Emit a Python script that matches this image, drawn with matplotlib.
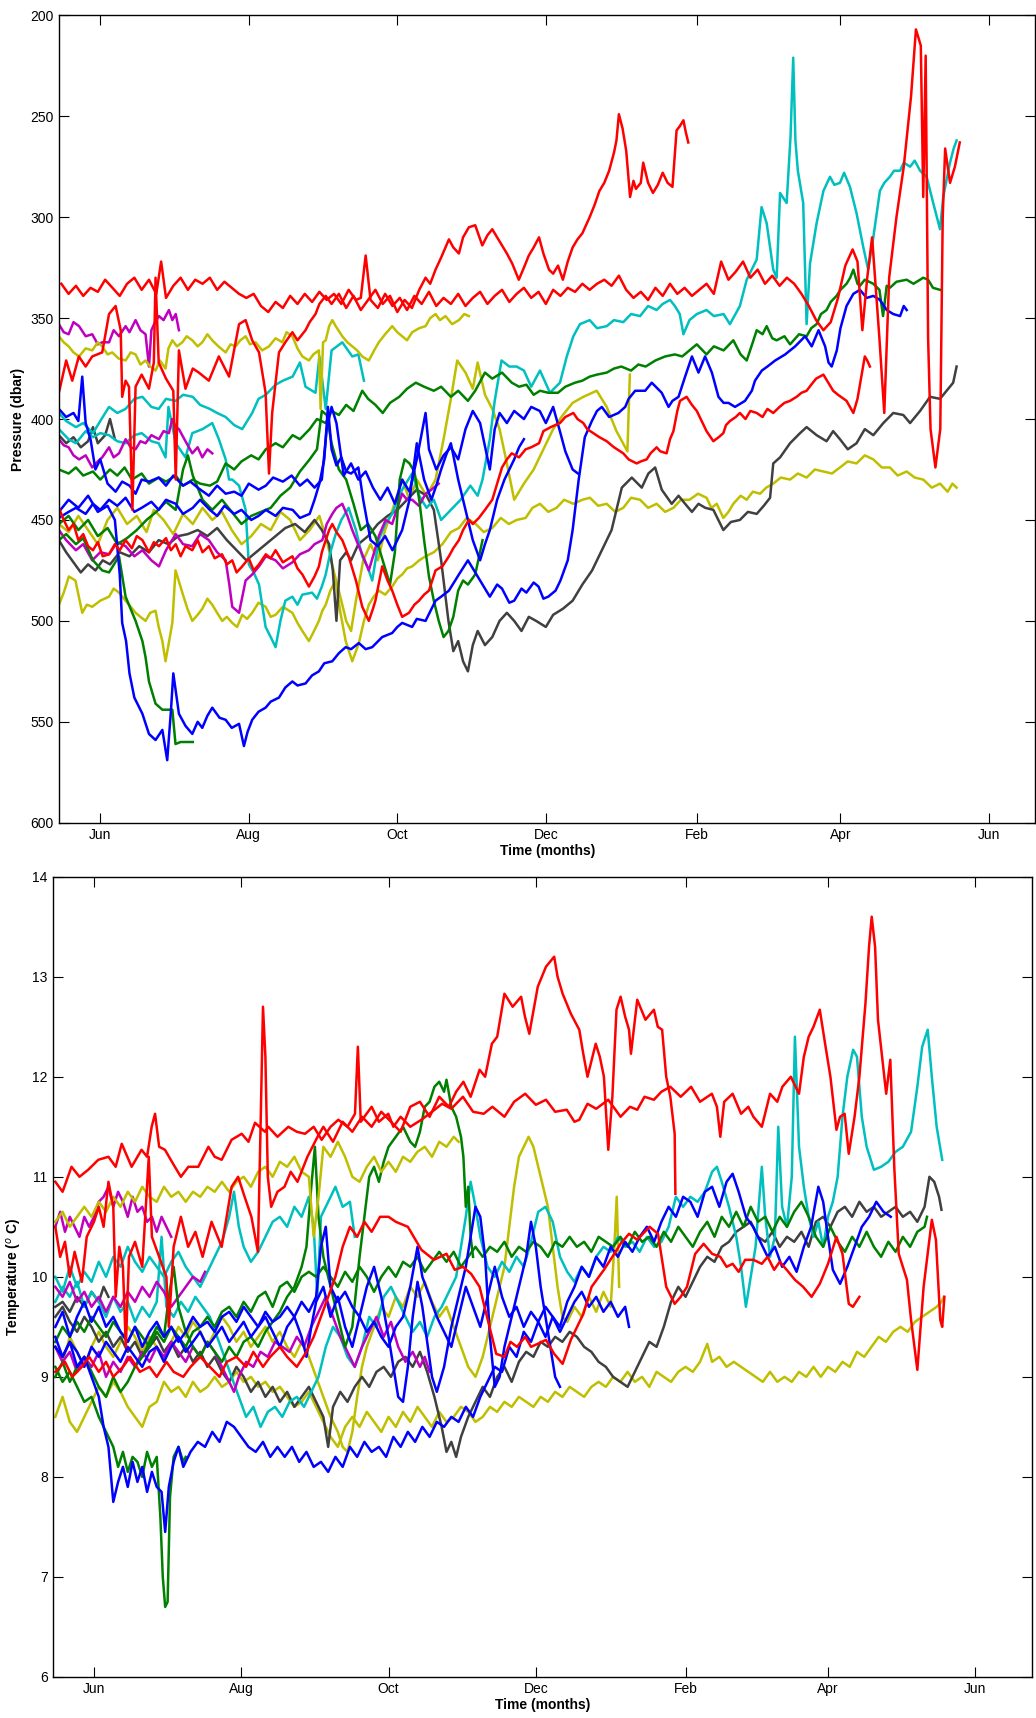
import numpy as np
import matplotlib
matplotlib.use("Agg")
import matplotlib.pyplot as plt
import matplotlib.dates as mdates

plt.rcParams['font.family'] = ['Liberation Sans', 'DejaVu Sans']

# ---------------- data: (day since 1 June, value) ----------------
BASE = "2009-06-01"

# ---- Pressure (dbar) ----
p_red1 = [(-16,333),(-13,338),(-10,334),(-7,339),(-4,335),(-1,337),(2,331),(5,335),(8,339),(11,333),(14,330),(17,336),(20,331),(23,338),(25,322),(27,340),(30,334),(33,330),(36,336),(39,331),(42,333),(45,330),(48,336),(51,332),(54,335),(57,338),(60,340),(63,338),(66,344),(69,347),(72,342),(75,345),(78,339),(81,343),(84,338),(87,342),(90,337),(93,341),(96,338),(99,343),(102,336),(105,341),(107,340),(109,319),(111,341),(114,345),(117,338),(120,344),(123,340),(126,346),(129,339),(132,343),(135,337),(138,344),(141,340),(144,343),(147,338),(150,344),(153,340),(156,337),(159,343),(162,339),(165,336),(168,342),(171,338),(174,335),(177,340),(180,337),(183,343),(186,336),(189,339),(192,335),(195,337),(198,333),(201,336),(204,333),(207,331),(210,334),(213,329),(216,336),(219,340),(222,337),(225,341),(228,335),(231,339),(234,333),(237,338),(240,335),(243,339),(246,336),(249,333),(252,338),(255,322),(258,331),(261,327),(264,322),(267,330),(270,326),(273,333),(276,329),(279,334),(282,330),(285,333),(288,338),(291,344),(294,351),(297,356),(300,352),(303,340),(306,324),(309,316),(311,322),(313,356),(315,330),(317,310),(320,360),(322,397),(324,330),(327,300),(330,275),(333,240),(335,207),(337,215),(338,290),(339,220),(340,360),(341,405),(343,424),(345,405),(346,300),(347,266),(349,283),(351,275),(353,263)]
p_red2 = [(-17,387),(-14,371),(-11.5,381),(-8.8,369),(-6,374),(-3.3,369),(0.8,367),(3.6,348),(6.3,344),(8.4,356),(9,389),(10.4,381),(11.8,384),(13.2,445),(14.5,384),(17,378),(20,385),(22,372),(22.7,330),(24,372),(27,380),(30,386),(31,430),(32.3,366),(35,385),(38,375),(40.5,377),(44.6,381),(48.7,369),(52.9,379),(57,353),(59.7,351),(62.4,361),(65.2,367),(67.9,387),(69.3,427),(70.6,397),(73.4,367),(76,362),(78.9,357),(81,361),(84.3,356),(86,352),(88.4,348),(90,343),(92.6,339),(95,343),(98,338),(101,345),(104,339),(107,346),(110,341),(113,336),(116,343),(119,339),(122,347),(125,341),(128,345),(131,336),(133.6,330),(135.5,333),(137.7,326),(140,320),(143.2,311),(145,315),(147.3,318),(149,310),(151.4,305),(154,304),(156.9,314),(159,309),(161,306),(163,310),(165,314),(167,318),(169.2,323),(171.9,331),(174,325),(176,319),(178,315),(180.2,310),(182,318),(184.3,326),(186,328),(188,324),(190,331),(192,322),(194,315),(196,311),(198,308),(201,300),(203,294),(205,287),(207,283),(209,277),(211,268),(212,262),(213,249),(214.5,256),(216,267),(217.6,290),(219,282),(220,286),(222,283),(223,273),(225,283),(227,288),(229,284),(231,278),(233,283),(235,285),(236.7,257),(238,255),(239.5,252),(240.5,258),(241.5,263)]
p_red3 = [(-17,444),(-15,450),(-13,455),(-11,452),(-9,460),(-7,457),(-5,463),(-3,465),(-1,461),(1,468),(3.6,467),(6,462),(8,465),(10.4,460),(13,464),(15,458),(17.3,460),(20,466),(22,461),(24.1,463),(27,459),(29,465),(31,462),(33,468),(35,463),(37.8,465),(40,460),(42,466),(44.6,463),(47,469),(50,467),(52,472),(54.2,470),(56,476),(58.3,473),(61,469),(63,475),(65.2,472),(68,467),(70,469),(72,465),(75,471),(78.9,468),(81,474),(83,477),(85.7,483),(88,478),(89.8,473),(91,466),(92.6,460),(94,455),(95.3,452),(97,456),(99.4,460),(102,468),(105,480),(107.6,493),(110.3,500),(112,494),(113,490),(115.8,473),(118,480),(119.9,485),(122,492),(124,498),(126.8,496),(129,492),(130.9,490),(133,487),(135,485),(137.7,475),(140.5,473),(143.2,468),(145,464),(147.3,460),(149,455),(151.4,450),(153,452),(155.5,449),(158,445),(161,440),(163,432),(165,424),(167,420),(169,417),(172,419),(174.7,415),(177,414),(180.2,412),(182,406),(185,404),(188.8,402),(191,399),(194.3,397),(196,400),(198.4,402),(200,405),(202.5,407),(205,409),(208,411),(211,414),(214.8,417),(217,420),(220.3,422),(222,421),(224.4,420),(226,417),(228.5,414),(230,416),(232.6,417),(234,410),(235.4,406),(237,396),(238.1,391),(240.8,389),(243,393),(245,396),(247,401),(249,406),(251.8,411),(254,409),(255.9,407),(257,403),(258.6,401),(261,399),(262.7,397),(265,400),(267,396),(269.6,397),(272,399),(274,395),(276.4,397),(279,394),(281,392),(283.3,391),(286,389),(288,387),(290.1,386),(292,383),(294,380),(297,378),(299,382),(301,386),(303,388),(306.5,391),(309.3,397),(311,390),(312,383),(313,376),(314,369),(315,371),(316.1,374)]
p_blue1 = [(-17,446),(-13,440),(-9,444),(-5,438),(-1,446),(3,443),(6,450),(8,477),(9,501),(10.6,510),(12,526),(14,538),(17.3,546),(20,556),(22.7,559),(25.5,554),(27.5,569),(29,545),(30,526),(32.3,546),(35,552),(37.8,556),(40,550),(41.9,553),(44,547),(46,543),(49,548),(51.5,549),(54,553),(57,551),(59,562),(60.5,555),(62.4,549),(65,545),(67.9,543),(70,540),(73.4,538),(76,533),(78.9,530),(81,532),(84.3,531),(87,527),(89.8,525),(92,521),(95.3,520),(98,516),(100.8,513),(103,514),(106.2,511),(109,514),(111.7,513),(115.8,508),(119.9,506),(122,503),(124,501),(128.1,503),(130,499),(133.6,500),(137.7,490),(140,488),(143.2,485),(147.3,477),(151,470),(153,474),(155,478),(158,484),(160,488),(163,482),(165,484),(168,491),(170,490),(173,484),(175,486),(178,481),(180,483),(182,489),(184,488),(187,485),(189,480),(192,470),(194,455),(196.5,430),(199,409),(201.9,401),(204,396),(206,394),(209,399),(212.8,397),(215.6,394),(217,390),(219.7,386),(223.8,386),(226.5,382),(230.6,387),(233.4,394),(235,391),(237.5,389),(240.2,379),(243,369),(245.7,377),(248.4,369),(251.2,377),(253.9,389),(256,392),(258,392),(260.7,394),(264.8,391),(267.6,386),(268.9,381),(271.7,376),(274,374),(277.2,371),(281.3,368),(285.4,364),(289.5,359),(292.2,364),(295,356),(297.7,364),(299.1,372),(300.4,374),(302.5,366),(304,355),(306.5,344),(309.3,338),(312,336),(314.8,340),(317.5,339),(320.2,341),(323,346),(325.7,348),(328.5,349),(330,344),(331.2,346)]
p_blue2 = [(-17,395),(-14,399),(-11,397),(-9,401),(-7.4,379),(-6,402),(-4,410),(-2,425),(0,420),(3,432),(6.3,436),(9,431),(12,433),(14.5,437),(17,430),(20,431),(24,429),(27,433),(30,428),(34,433),(37,431),(40,434),(44.6,438),(48,433),(51.5,437),(55,436),(58,438),(61,432),(65,435),(68,433),(71,429),(75,431),(78.6,428),(82,433),(85,430),(88,434),(91,430),(93,405),(95,394),(97,402),(100,428),(103,422),(106,430),(109,426),(112,434),(115,440),(118,434),(121,442),(124,430),(127,436),(130,420),(133.6,397),(135,415),(138,425),(141,418),(144,414),(147,420),(150,405),(153,396),(156,402),(160,425),(162,405),(164,397),(167,402),(170,396),(174,400),(177,394),(180.5,396),(183,402),(186,394),(189,407),(191,416),(194,425),(196.2,427)]
p_blue3 = [(-17,449),(-13,446),(-10,444),(-6,447),(-3,442),(0,445),(3.6,440),(7,443),(10.4,439),(14,446),(17,444),(21,441),(24,445),(27,440),(31,442),(34,447),(38,444),(41,440),(45,445),(48,448),(51,443),(55,447),(58,445),(62,450),(65,448),(68,445),(72,448),(75,444),(79,445),(82,449),(86,447),(88,440),(90,432),(92,420),(93.5,394),(95,415),(97,423),(99,419),(101,426),(103,427),(106,424),(108,440),(111,460),(114,463),(117,458),(120,465),(122,460),(124,455),(127,440),(130,412),(133,430),(136,440),(138,433),(140,425),(142,418),(144,412),(147,430),(150,445),(153,460),(156,470),(158,462),(160,455),(163,440),(166,430),(168,425),(170,420),(172,414),(174,410)]
p_green1 = [(-17,425),(-13,427),(-10,424),(-7,428),(-3,426),(0,430),(4,425),(7,428),(10,424),(13,430),(17,427),(20,432),(24,429),(27,431),(31,428),(34,433),(38,430),(41,432),(45,433),(48,431),(51.5,422),(55,425),(58,421),(62,418),(65,420),(68,415),(72,412),(75,414),(79,408),(82,410),(86,405),(89,400),(92.6,402),(95,396),(98,398),(101,393),(104,396),(107.6,386),(110,390),(113,393),(116,397),(119,392),(122.8,389),(126,385),(129.6,382),(133,384),(137,386),(140,384),(144,389),(147,386),(151,391),(154,386),(158,377),(161,380),(165,377),(169,382),(172,384),(175,383),(178,388),(180.6,386),(184,387),(188,387),(191,384),(195,382),(198,381),(201,379),(204,378),(208,377),(211,375),(214,374),(218,376),(221,373),(224,374),(228,371),(232,369),(236,368),(239,369),(242,366),(245,363),(249,368),(252,364),(256,366),(260,361),(263,368),(265.5,371),(268,362),(269.6,356),(272,358),(273.7,354),(276,360),(277.8,361),(281,359),(283.3,363),(287,358),(290.1,359),(292,355),(294.2,353),(296,348),(298.3,346),(300,342),(302.4,339),(304,336),(306.5,333),(308,330),(309.3,326),(311,333),(312,334),(314,331),(317.5,333),(320,336),(321.5,349),(323,334),(324.3,335),(327,332),(331.2,331),(334,333),(338,330),(340,331),(342,335),(344.9,336)]
p_green2 = [(-17,460),(-14,457),(-10,462),(-7,459),(-3,470),(0.8,475),(3.6,476),(7.7,468),(10.4,488),(14.5,500),(17.3,510),(18.6,518),(20,530),(22.7,541),(25.5,544),(29.6,544),(30.9,561),(33,560),(38,560)]
p_green3 = [(-17,452),(-13,448),(-9,455),(-5,450),(-1,458),(3,454),(7,462),(11,459),(15,455),(19,450),(23,446),(27,441),(31,445),(34,425),(36,418),(38,428),(42,440),(46,445),(50,440),(54,446),(58,452),(62,448),(66,446),(70,444),(74,438),(78,434),(82,426),(86,420),(89,415),(91,396),(93,398),(95,412),(98,425),(101,430),(104,442),(107,455),(110,452),(113,458),(116,470),(119,482),(121,466),(123,430),(125,420),(127,422),(129,426),(131,440),(133,460),(135,478),(137,490),(139,500),(141,508),(143,505),(145,498),(147,485),(149,480),(151,482),(154,477),(157,460)]
p_cyan1 = [(-17,397),(-14,401),(-10,404),(-7,402),(-3,407),(0,401),(3.6,394),(7,397),(10.4,395),(14,390),(17.3,389),(21,394),(24,395),(27,390),(31,391),(34,388),(38,389),(41,393),(45,395),(48,397),(51.5,399),(55,403),(58.3,405),(62.4,397),(65,390),(68,388),(72,383),(75,381),(79,379),(82,372),(84.3,384),(88.4,387),(90,369),(92.6,395),(95,366),(99.4,362),(103.5,369),(106,368),(108.3,381)]
p_cyan2 = [(-17,405),(-13,410),(-10,412),(-6,406),(-3,409),(0,407),(3.6,408),(7,411),(10.4,412),(14,408),(17,407),(21,411),(24,412),(26.8,419),(28,394),(31,412),(35,419),(37.8,407),(42,405),(46,402),(48.7,410),(51.5,420),(52.9,430),(54.2,430),(57,433),(59.7,445),(61,472),(63,476),(65.2,482),(67.9,503),(70,508),(72,513),(74,500),(76,490),(78.9,488),(81,492),(83,487),(87,486),(89,489),(91,483),(92.6,477),(94.5,466),(96.7,457),(99,450),(102,444),(105,455),(107.6,468),(110,474),(111.7,480),(114.4,460),(117,452),(119.9,447),(122,440),(124,435),(126,431),(128.1,427),(131,438),(134,444),(137,440),(140,450),(144,445),(148,440),(152,433),(155,438),(157,430),(160,410),(162,391),(164.8,371),(168,374),(171,374),(174,376),(177,384),(180.6,376),(184.7,387),(188.8,382),(191.6,369),(194.3,359),(197,353),(201,351),(204,355),(208,354),(211,351),(214.8,352),(218,348),(221.7,349),(225,344),(228.5,346),(231,343),(234,341),(236,344),(238,348),(239.5,358),(242,351),(245,348),(249,346),(252,349),(256,348),(258.6,353),(262.7,344),(265.5,331),(269.6,321),(271.6,295),(273.7,303),(276.4,326),(277.8,330),(279.2,288),(281.9,293),(283.5,260),(284.6,221),(285.5,262),(286.5,277),(288.7,293),(290.1,353),(291.5,323),(294.2,303),(297,287),(299.7,280),(301.5,284),(303.8,283),(305.5,278),(307.9,285),(310.6,298),(313.4,315),(315.4,326),(317.5,310),(320.2,287),(322,283),(324.3,280),(326,277),(328.5,277),(330,273),(332.6,275),(334.5,272),(336.7,277),(339.4,280),(342.1,293),(344.9,306),(346.2,290),(349,273),(350.5,266),(351.7,262)]
p_magenta1 = [(-17,353),(-15,357),(-13,358),(-11,352),(-8.7,354),(-6,359),(-3.3,358),(-1,363),(0.8,362),(3.6,362),(5.5,356),(7.7,359),(10.4,354),(12,357),(14.5,351),(16.5,356),(18.6,358),(20,374),(21,356),(22.5,352),(24.1,349),(26,351),(28.2,346),(29.6,351),(31,348),(32.3,356)]
p_magenta2 = [(-17,410),(-15,413),(-13,414),(-11,418),(-8.7,420),(-6,418),(-3.3,424),(-1,421),(0.8,419),(3.6,414),(5.5,419),(7.7,417),(10.4,410),(12.5,414),(14.5,415),(16.5,411),(18.6,412),(21,408),(24.1,410),(26,406),(28.2,407),(29.6,400),(31,404),(32.3,405),(35,411),(37.8,417),(40,414),(41.9,419),(44,415),(46,417)]
p_magenta3 = [(-17,455),(-14,460),(-10,465),(-7,462),(-3.3,470),(0,466),(3.6,467),(7,461),(10.4,463),(14,468),(17.3,465),(21,470),(24.1,473),(27,465),(31,457),(34,462),(37.8,463),(41,457),(44.6,460),(48,466),(51.5,470),(53,482),(54.2,493),(57,496),(59.7,480),(62.4,477),(65.2,473),(68,468),(72,470),(75,474),(78.9,471),(82,467),(85.7,465),(88,462),(91.2,460),(93,452),(95.3,447),(97,444),(99.4,442),(101.5,448),(103.5,455),(105.5,461),(107.6,467),(110.3,475),(112.5,466),(114.4,458),(117.2,450),(119.9,452),(122,444),(124,437),(126,440),(128.1,440),(130.9,443),(133.6,437),(136,435),(139,432)]
p_yellow1 = [(-17,359),(-15,362),(-13,364),(-11,367),(-8.7,369),(-6,365),(-3.3,366),(-1,362),(0.8,364),(3,368),(4.9,367),(7.5,370),(10.4,371),(12.5,367),(14.5,368),(16.5,373),(18.6,371),(20.5,374),(22.7,376),(24.5,371),(26.8,375),(28,365),(29.6,361),(31.5,364),(33.7,362),(35.5,359),(37.8,361),(40,364),(41.9,362),(44,358),(46,361),(48.5,364),(51.5,367),(53.5,363),(55.6,364),(57.5,361),(59.7,359),(61.5,363),(63.8,362),(66.5,366),(69.3,364),(72,360),(74.8,362),(76.5,357),(78.9,359),(81,365),(83,369),(85.7,371),(87.5,368),(89.8,366),(90.5,395),(91.5,362),(92.6,361),(94,354),(95.3,351),(96.7,354),(99.4,359),(101.5,362),(103.5,364),(105.5,366),(107.6,369),(110.3,371),(112.5,366),(114.4,362),(117,358),(119.9,354),(122,357),(124,359),(126,361),(128.1,357),(131,355),(133.6,354),(135.5,350),(137.7,348),(139.5,351),(141.8,349),(144.5,353),(147.3,351),(149.5,348),(151.4,349)]
p_yellow2 = [(-17,492),(-15,486),(-12.9,478),(-10.2,480),(-7.4,496),(-5.5,492),(-3.3,493),(0,490),(3.6,488),(5.5,484),(7.7,486),(10.4,490),(12.5,493),(14.5,496),(16.5,498),(18.6,500),(20.5,496),(22.7,495),(24,503),(25.5,510),(26.8,520),(28,512),(29.6,501),(30.9,475),(32.2,480),(33.7,486),(35.8,494),(37.8,500),(40,497),(41.9,494),(44,489),(46,492),(48,496),(50.1,500),(52,498),(54.2,501),(56.2,503),(58.3,497),(60.3,499),(62.4,496),(65,491),(67.9,493),(70,498),(72,497),(75,493),(78.9,496),(81,501),(83,505),(85.7,510),(87.8,505),(89.8,500),(91.2,495),(92.6,492),(94.5,485),(96.7,480),(98.5,495),(100.8,510),(103.5,520),(106.2,511),(108.3,500),(110.3,492),(112.3,488),(114.4,485),(117,487),(119.9,483),(122,479),(124,477),(126,474),(128.1,473),(131,470),(133.6,468),(137,466),(140.5,462),(144,456),(147.3,454),(150.5,449),(154.2,452),(157.5,456),(161,454),(164.5,449),(167.8,452),(171,450),(174.7,449),(177.5,444),(180.6,442),(184,446),(187.4,444),(190.5,440),(194.3,442),(198,440),(201.1,439),(204.5,443),(208,442),(211.5,446),(214.8,444),(218,439),(221.7,440),(225,444),(228.5,442),(232,446),(235.4,444),(238.5,440),(242,440),(245.5,437),(249,439),(251,444),(253.2,442),(255.9,449),(258,446),(260,442),(263,438),(265.5,440),(268,436),(271,437),(273.5,434),(276.4,432),(279.5,429),(283.3,430),(286.5,427),(290.1,429),(293.5,425),(297,426),(300.5,427),(303.8,424),(307,421),(310.6,422),(314,418),(317.5,420),(321,424),(324.3,424),(327.5,428),(331.2,426),(334.5,429),(338,430),(341.5,434),(344.9,432),(348,436),(350,432),(351.7,434)]
p_yellow3 = [(-17,452),(-13,456),(-9,448),(-5,455),(-1,462),(3,450),(7,444),(11,452),(15,448),(19,456),(22,445),(26,450),(30,457),(34,447),(38,452),(42,444),(46,450),(50,446),(54,455),(58,462),(62,458),(66,452),(70,455),(74,446),(78,450),(82,460),(86,455),(90,448),(93,460),(96,476),(99,490),(101,500),(103,505),(105,490),(108,470),(111,462),(114,470),(117,455),(120,445),(124,430),(127,440),(130,430),(134,438),(137.7,430),(141,410),(144,390),(146.6,371),(150,377),(153,385),(155,372),(158,388),(161,395),(164,405),(167,422),(170,440),(174,432),(178,425),(182,415),(186,405),(190,398),(194,392),(198.4,389),(203.9,386),(208,394),(212,406),(216.5,416),(217.5,378)]
p_gray1 = [(-17,460),(-14,466),(-11,471),(-8,476),(-5,472),(-2,475),(1,470),(4,472),(8,466),(12,468),(16,463),(20,466),(24,460),(28,462),(32,458),(36,457),(40,455),(44,458),(48,454),(52,460),(56,465),(60,470),(64,466),(68,462),(72,458),(76,454),(80,452),(84,456),(88,450),(91,455),(94,462),(95.5,475),(97,500),(98.5,470),(101,466),(103,470),(106,462),(110,458),(114,452),(118,448),(122,445),(126,440),(130,435),(134,438),(137,445),(140,470),(143,500),(145,515),(147,510),(149,520),(151,525),(153,512),(155,505),(158,512),(161,508),(164,500),(167,496),(170,500),(173,505),(176,498),(179,500),(183,503),(186,497),(190,494),(194,490),(198,482),(202,475),(206,465),(210,455),(214.2,434),(218.3,429),(222.4,434),(225.1,427),(227.9,424),(230.6,435),(234.7,442),(237.5,438),(240.2,442),(243,446),(245.7,442),(248.5,444),(251.8,445),(255.9,455),(259,451),(262.7,450),(266,446),(269.6,447),(272.5,443),(275.1,439),(276.4,422),(279.2,419),(283.3,412),(287.4,407),(290.1,404),(294.2,408),(298.3,411),(301,406),(303.8,410),(307,415),(310.6,412),(314,405),(317.5,408),(321.6,402),(325.7,397),(329.8,398),(332.6,402),(336.7,396),(340.8,389),(344.9,390),(347.6,386),(350.3,382),(351.7,374)]
p_gray2 = [(-17,408),(-14,412),(-11,409),(-8,414),(-5,411),(-3,404),(-1,412),(2,408),(4,400),(6,410)]

# ---- Temperature (deg C) ----
t_red1 = [(-16,10.95),(-13,10.85),(-9.3,11.1),(-6,11.0),(-2.4,11.07),(1.8,11.17),(6,11.2),(9,11.1),(11.5,11.33),(15.6,11.1),(19.7,11.27),(22,11.2),(23.9,11.5),(25.3,11.63),(27,11.3),(29.4,11.27),(33.5,11.1),(36,11.0),(39.1,11.1),(43.2,11.1),(47.4,11.3),(50,11.2),(52.9,11.17),(57,11.37),(61.2,11.43),(64,11.35),(66.7,11.54),(70.8,11.45),(72.2,11.5),(76,11.4),(80.5,11.5),(84,11.45),(87.4,11.43),(91,11.5),(94.3,11.37),(98,11.5),(101.2,11.57),(105,11.5),(108.1,11.63),(109.3,12.3),(110.5,11.55),(115,11.7),(118,11.55),(121.9,11.63),(124,11.5),(127,11.6),(131,11.5),(135.6,11.57),(140,11.65),(144.2,11.73),(148,11.68),(152.8,11.8),(157,11.65),(161.4,11.63),(165,11.7),(170,11.6),(174,11.75),(178.6,11.83),(183,11.72),(187.2,11.77),(191,11.65),(195.8,11.67),(199,11.55),(201,11.57),(204.4,11.73),(208,11.68),(213,11.77),(218.1,11.6),(222,11.7),(225,11.67),(228,11.8),(231.9,11.77),(235,11.85),(238.7,11.9),(243,11.8),(247.3,11.9),(251,11.75),(255.9,11.83),(258,11.7),(259.4,11.4),(261,11.75),(264.5,11.83),(268,11.63),(271,11.7),(273.1,11.6),(276.6,11.5),(280,11.83),(283,11.75),(285.1,11.9),(288.6,12.0),(292,11.83),(294,12.2),(296,12.4),(298,12.5),(300.6,12.67),(303,12.3),(305,12.0),(307.5,11.47),(309,11.6),(310.9,11.63),(312.6,11.23),(315,11.6),(317,12.0),(319.5,12.73),(321,13.3),(322.1,13.6),(323.5,13.3),(324.7,12.57),(326.4,12.2),(328.1,11.83),(329.8,12.17),(331.5,11.07),(333.3,10.23),(336.7,9.97),(338.4,9.57),(341,9.07),(343.6,9.9),(347,10.57),(348.7,10.37),(350.5,9.57),(351.3,9.5),(352.2,9.8)]
t_red2 = [(-16,10.5),(-14,10.2),(-12,10.35),(-10,10.0),(-8,10.25),(-5,9.95),(-3,10.4),(0,10.55),(2,10.7),(4,10.5),(6,10.95),(8,10.7),(9,9.8),(10.5,10.3),(12,10.1),(13.2,9.3),(14.5,10.2),(17,10.35),(20,10.1),(22.7,11.2),(24,10.4),(27,10.2),(30,10.0),(31,9.5),(33,10.3),(36,10.6),(39,10.3),(42,10.45),(45,10.2),(48.7,10.55),(52.9,10.3),(57,10.9),(59.7,11.0),(62.4,10.8),(65.2,10.6),(67.9,10.25),(69,11.5),(70,12.7),(71,12.2),(72,11.0),(73.4,10.7),(76,10.85),(78.9,10.9),(81.5,11.05),(84.3,10.95),(88.4,11.2),(92.6,11.4),(95,11.5),(99,11.35),(103,11.55),(107,11.45),(111,11.6),(115,11.5),(119,11.65),(123,11.55),(127,11.45),(131,11.7),(135,11.75),(139,11.6),(143,11.8),(147,11.7),(150,11.85),(153,11.95),(156,11.8),(159.7,12.07),(162,12.0),(164.8,12.33),(167,12.4),(170,12.83),(173.4,12.7),(176.9,12.8),(178.5,12.6),(180.3,12.43),(183.8,12.9),(187.2,13.1),(190.6,13.2),(192,13.0),(194.1,12.83),(197.5,12.63),(201,12.47),(202.5,12.25),(204.4,12.0),(207.8,12.33),(209.5,12.2),(211.2,12.0),(213,11.27),(214.7,11.8),(216.4,12.67),(218.1,12.8),(220,12.6),(221.6,12.47),(222.4,12.23),(225,12.77),(228.4,12.57),(231.9,12.67),(233.5,12.5),(235.3,12.47),(237,12.0),(238.7,11.8),(240.5,11.43),(240.8,10.83)]
t_red3 = [(-16,9.05),(-12,9.15),(-9,9.0),(-5,9.1),(-2,9.2),(2,9.05),(5,9.15),(8,9.0),(12,9.1),(15,9.2),(19,9.05),(23,9.1),(26,9.0),(30,9.15),(33,9.05),(37,9.0),(40,9.1),(44,9.2),(48,9.1),(52,9.0),(55,9.15),(59,9.2),(63,9.1),(66,9.25),(70,9.1),(73,9.2),(77,9.3),(80,9.2),(84,9.1),(88,9.25),(91,9.4),(94,9.6),(97,9.8),(100,10.0),(103,10.3),(106,10.5),(109,10.4),(112,10.55),(115,10.45),(118.5,10.6),(122,10.6),(125,10.55),(130,10.5),(135.6,10.27),(140.8,10.17),(146,10.23),(149.4,10.07),(152.8,10.1),(156.2,10.03),(159.7,9.9),(163.1,9.57),(166.6,9.23),(170,9.2),(172.5,9.35),(175.2,9.3),(178.6,9.4),(181,9.3),(183.8,9.33),(187.2,9.37),(190.6,9.23),(194.1,9.13),(197.5,9.37),(202.7,9.63),(206.1,9.9),(211.2,10.07),(214.7,10.2),(218.1,10.33),(221.6,10.43),(225,10.37),(230.1,10.5),(233.6,10.43),(237,9.9),(240.5,9.73),(243,9.8),(245.6,9.9),(249,10.23),(252.5,10.33),(256,10.23),(259.4,10.2),(262,10.1),(264.5,10.13),(267,10.05),(269.7,10.17),(273.1,10.17),(276.6,10.13),(279,10.2),(281.7,10.07),(284,10.15),(286.9,10.07),(290.3,9.97),(293.7,9.9),(297.2,9.8),(300.6,9.93),(304,10.13),(307.5,10.4),(310,10.23),(312.6,9.73),(314.3,9.7),(317,9.8)]
t_blue1 = [(-16,9.4),(-13,9.2),(-10,9.35),(-7,9.1),(-4,9.2),(-1,9.0),(2,8.8),(4,8.5),(6,8.3),(8,7.75),(10,7.95),(12,8.1),(14,7.9),(16,8.15),(18,7.95),(20,8.1),(22,7.85),(24,8.05),(26,7.9),(28,7.85),(29.5,7.45),(31,7.9),(33,8.15),(35,8.3),(37,8.1),(40,8.25),(43,8.35),(46,8.3),(49,8.45),(52,8.35),(55,8.55),(58,8.5),(61,8.4),(64,8.3),(67,8.25),(70,8.35),(73,8.2),(76,8.3),(79,8.2),(82,8.3),(85,8.15),(88,8.25),(91,8.1),(94,8.15),(97,8.05),(100,8.2),(103,8.1),(106,8.3),(109,8.2),(112,8.35),(115,8.25),(118,8.3),(121,8.2),(124,8.4),(127,8.3),(130,8.45),(133,8.35),(136,8.5),(139,8.4),(142,8.55),(145,8.5),(148,8.6),(151,8.55),(154,8.7),(157,8.6),(160,8.8),(163,8.95),(166,9.1),(169,9.05),(172,9.3),(175,9.2),(178,9.45),(181,9.35),(184,9.55),(187,9.4),(190,9.6),(193,9.5),(196,9.75),(199,9.9),(202,10.1),(205,10.0),(208,10.2),(211,10.1),(214,10.3),(217,10.2),(220,10.35),(223,10.25),(226,10.4),(229,10.5),(232,10.35),(235,10.55),(238,10.7),(241,10.6),(244,10.8),(247,10.75),(250,10.6),(253,10.85),(256,10.9),(259,10.7),(262,10.95),(264.5,11.03),(267,10.85),(270,10.6),(273,10.5),(276,10.35),(279,10.2),(282,10.3),(285,10.1),(288,10.2),(291,10.05),(294,10.3),(297,10.5),(300,10.9),(302,10.75),(304,10.4),(306,10.07),(309,9.93),(312,10.1),(315,10.3),(318,10.5),(321,10.6),(324,10.75),(327,10.65),(330,10.6)]
t_blue2 = [(-16,9.5),(-13,9.65),(-10,9.4),(-7,9.6),(-4,9.75),(-1,9.55),(2,9.7),(5,9.5),(8,9.6),(11,9.45),(14,9.35),(17,9.5),(20,9.3),(23,9.45),(26,9.55),(29,9.4),(32,9.5),(35,9.35),(38,9.45),(41,9.6),(44,9.5),(47,9.55),(50,9.45),(53,9.6),(56,9.65),(59,9.55),(62,9.7),(65,9.6),(68,9.5),(71,9.65),(74,9.55),(77,9.6),(80,9.7),(83,9.6),(86,9.75),(89,9.65),(92,9.8),(94,10.3),(96,10.5),(98,9.9),(101,9.75),(104,9.85),(107,9.7),(110,9.6),(113,9.45),(116,9.55),(119,9.4),(122,9.3),(125,9.5),(128,9.6),(131,9.9),(134,10.3),(136,10.0),(139,9.8),(142,9.6),(145,9.45),(148,9.3),(151,9.6),(154,9.9),(157,9.7),(160,9.5),(163,9.8),(166,10.1),(169,9.8),(172,9.6),(175,9.7),(178,9.5),(181,9.65),(184,9.55),(187,9.7),(190,9.6),(193,9.45),(196,9.6),(199,9.75),(202,9.85),(205,9.7),(208,9.8),(211,9.65),(214,9.75),(217,9.6),(220,9.7),(221.6,9.5)]
t_blue3 = [(-16,9.3),(-13,9.2),(-10,9.35),(-7,9.25),(-4,9.1),(-1,9.3),(2,9.2),(5,9.35),(8,9.25),(11,9.15),(14,9.3),(17,9.2),(20,9.1),(23,9.25),(26,9.3),(29,9.15),(32,9.3),(35,9.4),(38,9.25),(41,9.35),(44,9.45),(47,9.3),(50,9.4),(53,9.5),(56,9.35),(59,9.45),(62,9.55),(65,9.4),(68,9.5),(71,9.6),(74,9.45),(77,9.3),(80,9.5),(83,9.6),(86,9.4),(88,9.2),(90,9.5),(92,9.75),(95,9.9),(98,9.6),(101,9.8),(104,9.5),(107,9.3),(110,9.6),(113,9.9),(116,10.1),(119,9.8),(122,9.4),(124,9.1),(126,8.8),(128,8.75),(130,9.1),(132,9.6),(134,9.95),(136,9.7),(138,9.35),(140,9.0),(142,8.85),(145,9.1),(148,9.5),(151,9.8),(154,10.1),(156,10.4),(158,10.7),(160,10.6),(162,10.2),(164,9.4),(166,8.9),(168,9.0),(170,9.3),(173,9.6),(176,9.9),(179,10.2),(181,10.55),(183,10.3),(185,9.9),(187,9.6),(189,9.3),(191,9.0),(193,8.9)]
t_green1 = [(-16,9.35),(-13,9.5),(-10,9.4),(-7,9.55),(-4,9.45),(-1,9.6),(2,9.5),(5,9.4),(8,9.55),(11,9.45),(14,9.35),(17,9.5),(20,9.4),(23,9.3),(26,9.45),(29,9.35),(32,9.5),(35,9.4),(38,9.3),(41,9.45),(44,9.5),(47,9.6),(50,9.5),(53,9.65),(56,9.7),(59,9.6),(62,9.75),(65,9.65),(68,9.8),(71,9.85),(74,9.7),(77,9.9),(80,9.95),(83,9.85),(86,10.0),(89,10.05),(92,10.0),(95,10.1),(98,10.0),(101,9.9),(104,10.05),(107,9.95),(110,10.1),(113,10.0),(116,9.85),(119,10.0),(122,10.1),(125,10.0),(128,10.15),(131,10.1),(134,10.2),(137,10.05),(140,10.15),(143,10.25),(146,10.15),(149,10.25),(152,10.1),(155,10.2),(158,10.3),(161,10.2),(164,10.3),(167,10.25),(170,10.35),(173,10.2),(176,10.3),(179,10.25),(182,10.35),(185,10.3),(188,10.2),(191,10.35),(194,10.3),(197,10.4),(200,10.3),(203,10.35),(206,10.25),(209,10.4),(212,10.35),(215,10.3),(218,10.4),(221,10.3),(224,10.45),(227,10.35),(230,10.4),(233,10.3),(236,10.45),(239,10.35),(242,10.5),(245,10.4),(248,10.3),(251,10.45),(254,10.55),(257,10.4),(260,10.6),(263,10.5),(266,10.65),(269,10.5),(272,10.7),(275,10.55),(278,10.6),(281,10.45),(284,10.6),(287,10.5),(290,10.65),(293,10.75),(296,10.6),(299,10.4),(302,10.3),(305,10.5),(308,10.35),(311,10.25),(314,10.4),(317,10.3),(320,10.45),(323,10.3),(326,10.2),(329,10.35),(332,10.25),(335,10.4),(338,10.3),(341,10.45),(344,10.5),(345,10.6)]
t_green2 = [(-16,9.1),(-13,8.95),(-10,9.05),(-7,8.9),(-4,8.75),(-1,8.8),(2,8.6),(5,8.45),(8,8.3),(10,8.1),(12,8.25),(14,8.05),(16,8.2),(18,8.15),(20,8.0),(22,8.25),(24,8.1),(26,8.2),(27.5,7.6),(28.5,7.0),(29.5,6.7),(30.5,6.75),(31.5,7.8),(33,8.2),(35,8.3),(37,8.15),(38,8.2)]
t_green3 = [(-16,9.0),(-13,9.15),(-10,8.95),(-7,9.1),(-4,9.2),(-1,9.05),(2,8.9),(5,8.8),(8,9.0),(11,8.85),(14,8.95),(17,9.1),(20,9.2),(23,9.35),(26,9.5),(29,9.4),(31,9.8),(33,10.1),(35,9.7),(38,9.45),(41,9.3),(44,9.2),(47,9.35),(50,9.25),(53,9.15),(56,9.3),(59,9.2),(62,9.35),(65,9.4),(68,9.3),(71,9.45),(74,9.55),(77,9.65),(80,9.8),(83,9.9),(86,10.1),(88,10.3),(90,10.9),(91.5,11.3),(93,10.6),(95,10.2),(98,9.9),(101,9.6),(104,9.3),(107,9.5),(110,10.2),(112,10.6),(114,11.0),(116,11.1),(118,10.95),(120,11.15),(122,11.3),(125,11.4),(128,11.5),(131,11.35),(133,11.3),(135,11.45),(137,11.7),(139,11.75),(141,11.9),(143,11.95),(145,11.85),(146,11.97),(148,11.7),(150,11.6),(152,11.4),(153,11.2),(154,10.7),(155,10.9),(156,10.4),(157,10.2)]
t_cyan1 = [(-16,10.0),(-13,9.85),(-10,10.1),(-7,9.9),(-4,10.05),(-1,9.95),(2,10.15),(5,10.0),(8,10.2),(11,10.1),(14,10.3),(17,10.15),(20,10.05),(23,10.2),(26,10.1),(29,10.0),(32,10.15),(35,10.25),(38,10.1),(41,10.0),(44,9.9),(47,10.05),(50,10.2),(53,10.35),(56,10.6),(58,10.85),(60,10.5),(62,10.3),(65,10.15),(68,10.25),(71,10.4),(74,10.55),(77,10.6),(80,10.5),(83,10.7),(86,10.6),(89,10.8),(91,10.5),(92.5,9.8),(94,10.6),(97,10.75),(100,10.9),(103,10.7),(106,10.75),(108,10.4)]
t_cyan2 = [(-16,9.75),(-13,9.9),(-10,9.8),(-7,9.95),(-4,9.7),(-1,9.85),(2,9.75),(5,9.6),(8,9.8),(11,9.65),(14,9.75),(17,9.55),(20,9.7),(23,9.6),(26,9.75),(28,10.4),(30,9.7),(33,9.6),(36,9.75),(39,9.65),(42,9.8),(45,9.7),(48,9.6),(51,9.4),(54,9.2),(57,9.0),(60,8.8),(63,8.6),(66,8.7),(69,8.5),(72,8.65),(75,8.7),(78,8.6),(81,8.75),(84,8.8),(87,8.7),(90,8.85),(93,9.0),(96,9.3),(99,9.5),(102,9.4),(105,9.2),(108,9.1),(111,9.3),(114,9.6),(117,9.5),(120,9.8),(123,9.9),(126,9.75),(129,9.6),(132,9.45),(135,9.55),(138,9.4),(141,9.6),(144,9.7),(147,9.85),(150,10.0),(152,10.3),(154,10.6),(156,10.95),(158,10.7),(160,10.4),(163,10.1),(166,10.0),(169,10.15),(172,10.05),(175,10.2),(178,10.1),(181,10.35),(184,10.65),(187,10.7),(190,10.55),(193,10.2),(196,10.05),(199,9.95),(202,10.1),(205,10.0),(208,10.2),(211,10.3),(214,10.25),(217,10.4),(220,10.3),(223,10.35),(226,10.25),(229,10.4),(232,10.3),(235,10.35),(238,10.5),(241,10.8),(244,10.7),(247,10.8),(250,10.75),(253,10.85),(256,11.05),(258,11.1),(260,10.95),(263,10.7),(266,10.4),(268,10.1),(270,9.7),(272,10.0),(274,10.3),(276.6,11.1),(278,10.6),(280,10.2),(282,10.4),(283.4,11.5),(285,10.7),(287,10.5),(289,11.0),(290.3,12.4),(292,11.3),(294,10.9),(296,10.6),(298,10.4),(300,10.55),(302,10.3),(304,10.6),(306,10.75),(308,11.0),(310,11.6),(312,12.0),(314.4,12.27),(316,12.2),(318,11.6),(320,11.3),(323,11.07),(326,11.1),(329,11.15),(332,11.25),(335,11.3),(338.4,11.45),(341,11.9),(343,12.3),(345.3,12.47),(347,12.0),(349,11.5),(351.3,11.17)]
t_magenta1 = [(-16,10.5),(-14,10.65),(-12,10.45),(-10,10.6),(-8,10.5),(-6,10.4),(-4,10.6),(-2,10.5),(0,10.6),(2,10.75),(4,10.8),(6,10.9),(8,10.7),(10,10.85),(12,10.75),(14,10.6),(16,10.8),(18,10.65),(20,10.7),(22,10.55),(24,10.6),(26,10.45),(28,10.6),(30,10.5),(32,10.4)]
t_magenta2 = [(-16,9.9),(-13,9.8),(-10,9.95),(-7,9.75),(-4,9.85),(-1,9.7),(2,9.8),(5,9.65),(8,9.8),(11,9.7),(14,9.85),(17,9.75),(20,9.9),(23,9.8),(26,9.95),(29,9.85),(32,9.7),(35,9.8),(38,9.9),(41,10.0),(44,9.95),(46,10.05)]
t_magenta3 = [(-16,9.3),(-13,9.15),(-10,9.25),(-7,9.05),(-4,9.2),(-1,9.1),(2,9.25),(5,9.0),(8,9.15),(11,9.05),(14,9.2),(17,9.1),(20,9.25),(23,9.15),(26,9.3),(29,9.2),(32,9.35),(35,9.25),(38,9.15),(41,9.3),(44,9.2),(47,9.35),(50,9.25),(53,9.1),(56,8.95),(58,8.85),(60,9.0),(63,9.15),(66,9.1),(69,9.25),(72,9.2),(75,9.35),(78,9.3),(81,9.25),(84,9.4),(87,9.3),(90,9.5),(93,9.65),(96,9.8),(99,9.6),(102,9.4),(105,9.25),(108,9.1),(111,9.3),(114,9.45),(117,9.6),(120,9.4),(123,9.55),(126,9.3),(129,9.15),(132,9.25),(135,9.1),(137,9.2),(139,9.05)]
t_yellow1 = [(-16,10.55),(-13,10.65),(-10,10.5),(-7,10.6),(-4,10.7),(-1,10.6),(2,10.75),(5,10.65),(8,10.8),(11,10.7),(14,10.85),(17,10.75),(20,10.9),(23,10.8),(26,10.75),(29,10.9),(32,10.8),(35,10.85),(38,10.75),(41,10.85),(44,10.8),(47,10.9),(50,10.85),(53,10.95),(56,10.85),(59,10.95),(62,11.0),(65,10.9),(68,11.05),(71,11.1),(74,11.0),(77,11.15),(80,11.1),(83,11.2),(86,11.05),(89,11.0),(91,10.4),(93,10.8),(95,11.3),(98,11.2),(101,11.35),(104,11.2),(107,11.0),(110,10.95),(113,11.1),(116,11.2),(119,11.05),(122,11.15),(125,11.05),(128,11.2),(131,11.15),(134,11.25),(137,11.3),(140,11.2),(143,11.35),(146,11.3),(149,11.4),(151,11.35)]
t_yellow2 = [(-16,8.6),(-13,8.8),(-10,8.55),(-7,8.45),(-4,8.6),(-1,8.75),(2,8.9),(5,8.8),(8,8.95),(11,8.85),(14,8.7),(17,8.6),(20,8.5),(23,8.7),(26,8.75),(29,8.95),(32,8.85),(35,8.9),(38,8.8),(41,8.95),(44,8.85),(47,8.9),(50,9.0),(53,8.9),(56,8.95),(59,9.05),(62,8.95),(65,9.0),(68,8.9),(71,8.95),(74,8.85),(77,8.9),(80,8.8),(83,8.7),(86,8.75),(89,8.85),(92,8.7),(95,8.55),(98,8.4),(101,8.3),(104,8.5),(107,8.6),(110,8.5),(113,8.65),(116,8.55),(119,8.45),(122,8.6),(125,8.5),(128,8.65),(131,8.55),(134,8.7),(137,8.6),(140,8.5),(143,8.65),(146,8.55),(149,8.6),(152,8.7),(155,8.65),(158,8.55),(161,8.6),(164,8.7),(167,8.65),(170,8.75),(173,8.7),(176,8.8),(179,8.75),(182,8.7),(185,8.8),(188,8.75),(191,8.85),(194,8.8),(197,8.9),(200,8.85),(203,8.8),(206,8.9),(209,8.95),(212,8.9),(215,9.0),(218,8.95),(221,9.05),(224,8.95),(227,9.0),(230,8.9),(233,9.05),(236,9.0),(239,8.95),(242,9.05),(245,9.1),(248,9.05),(251,9.15),(254,9.33),(256,9.15),(259,9.2),(262,9.1),(265,9.15),(268,9.1),(271,9.05),(274,9.0),(277,8.95),(280,9.05),(283,8.95),(286,9.0),(289,8.95),(292,9.05),(295,9.0),(298,9.1),(301,9.0),(304,9.1),(307,9.05),(310,9.15),(313,9.1),(316,9.25),(319,9.2),(322,9.3),(325,9.4),(328,9.35),(331,9.45),(334,9.5),(337,9.45),(340,9.55),(343,9.6),(346,9.65),(349,9.7),(351,9.75),(352,9.8)]
t_yellow3 = [(-16,9.3),(-13,9.15),(-10,9.4),(-7,9.25),(-4,9.1),(-1,9.3),(2,9.45),(5,9.3),(8,9.2),(11,9.35),(14,9.5),(17,9.4),(20,9.25),(23,9.4),(26,9.3),(29,9.15),(32,9.35),(35,9.5),(38,9.4),(41,9.55),(44,9.45),(47,9.3),(50,9.45),(53,9.6),(56,9.5),(59,9.35),(62,9.45),(65,9.3),(68,9.4),(71,9.5),(74,9.35),(77,9.45),(80,9.3),(83,9.2),(86,9.35),(89,9.2),(92,9.0),(95,8.8),(98,8.6),(101,8.45),(103,8.3),(105,8.25),(107,8.45),(109,8.8),(111,9.1),(113,9.3),(116,9.5),(119,9.7),(122,9.6),(125,9.8),(128,9.7),(131,9.9),(134,9.8),(137,9.95),(140,9.75),(143,9.6),(146,9.7),(149,9.5),(152,9.3),(155,9.1),(158,9.0),(161,9.2),(164,9.5),(167,9.8),(170,10.1),(172,10.5),(174,10.9),(176,11.2),(178,11.3),(180,11.4),(182,11.3),(184,11.1),(186,10.9),(188,10.7),(190,10.3),(192,9.9),(194,9.6),(196,9.55),(199,9.7),(202,9.6),(205,9.8),(208,9.65),(211,9.85),(214,9.7),(215.5,10.3),(216.5,10.8),(217.5,9.9)]
t_gray1 = [(-16,9.6),(-13,9.7),(-10,9.55),(-7,9.45),(-4,9.6),(-1,9.5),(2,9.35),(5,9.45),(8,9.3),(11,9.4),(14,9.25),(17,9.35),(20,9.2),(23,9.3),(26,9.4),(29,9.25),(32,9.35),(35,9.2),(38,9.3),(41,9.15),(44,9.25),(47,9.1),(50,9.2),(53,9.05),(56,8.95),(59,9.1),(62,9.0),(65,8.85),(68,8.95),(71,8.8),(74,8.9),(77,8.75),(80,8.85),(83,8.7),(86,8.8),(89,8.9),(92,8.75),(95,8.6),(97,8.3),(99,8.7),(102,8.85),(105,8.75),(108,8.9),(111,9.0),(114,8.9),(117,9.05),(120,9.1),(123,9.0),(126,9.15),(129,9.2),(132,9.1),(135,9.25),(138,9.05),(141,8.8),(144,8.5),(146,8.25),(148,8.35),(150,8.2),(152,8.4),(155,8.6),(158,8.75),(161,8.9),(164,8.8),(167,9.0),(170,9.1),(173,8.95),(176,9.15),(179,9.25),(182,9.2),(185,9.35),(188,9.3),(191,9.4),(194,9.35),(197,9.45),(200,9.4),(203,9.3),(206,9.25),(209,9.15),(212,9.1),(215,9.0),(218,8.95),(221,8.9),(224,9.05),(227,9.2),(230,9.35),(233,9.3),(236,9.5),(239,9.75),(242,9.9),(245,9.8),(248,9.95),(251,10.1),(254,10.2),(257,10.15),(260,10.3),(263,10.35),(266,10.45),(269,10.5),(272,10.55),(275,10.4),(278,10.35),(281,10.45),(284,10.3),(287,10.4),(290,10.35),(293,10.45),(296,10.3),(299,10.55),(302,10.6),(305,10.5),(308,10.65),(311,10.7),(314,10.6),(317,10.75),(320,10.65),(323,10.7),(326,10.6),(329,10.65),(332,10.7),(335,10.6),(338,10.65),(341,10.55),(344,10.7),(346,11.0),(348,10.95),(350,10.8),(351,10.67)]
t_gray2 = [(-16,9.7),(-13,9.75),(-10,9.65),(-7,9.8),(-4,9.7),(-1,9.85),(2,9.75),(4,9.9),(6,9.8)]

# MATLAB-like line colours
RED, BLUE, GREEN, CYAN = '#FF0000', '#0000FF', '#008000', '#00BFBF'
MAGENTA, YELLOW, GRAY = '#BF00BF', '#BFBF00', '#404040'

pressure_series = [
    (p_yellow2, YELLOW), (p_yellow3, YELLOW), (p_gray1, GRAY), (p_gray2, GRAY),
    (p_cyan1, CYAN), (p_cyan2, CYAN), (p_magenta1, MAGENTA), (p_magenta2, MAGENTA),
    (p_magenta3, MAGENTA), (p_green1, GREEN), (p_green2, GREEN), (p_green3, GREEN),
    (p_blue1, BLUE), (p_blue2, BLUE), (p_blue3, BLUE), (p_yellow1, YELLOW),
    (p_red3, RED), (p_red2, RED), (p_red1, RED),
]
temperature_series = [
    (t_yellow2, YELLOW), (t_yellow3, YELLOW), (t_gray1, GRAY), (t_gray2, GRAY),
    (t_cyan1, CYAN), (t_cyan2, CYAN), (t_magenta1, MAGENTA), (t_magenta2, MAGENTA),
    (t_magenta3, MAGENTA), (t_green1, GREEN), (t_green2, GREEN), (t_green3, GREEN),
    (t_blue1, BLUE), (t_blue2, BLUE), (t_blue3, BLUE), (t_yellow1, YELLOW),
    (t_red3, RED), (t_red2, RED), (t_red1, RED),
]

pressure_ticks = [200, 250, 300, 350, 400, 450, 500, 550, 600]
temperature_ticks = [6, 7, 8, 9, 10, 11, 12, 13, 14]

# ---------------- figure ----------------
base_num = mdates.date2num(np.datetime64(BASE))

fig = plt.figure(figsize=(10.36, 17.18), dpi=100)
ax1 = fig.add_axes([0.0572, 0.5211, 0.9423, 0.4700])
ax2 = fig.add_axes([0.0514, 0.0239, 0.9450, 0.4658])

def draw(ax, series):
    for data, col in series:
        d, v = zip(*data)
        ax.plot(base_num + np.asarray(d, float), np.asarray(v, float),
                color=col, lw=1.8, solid_joinstyle='round')

draw(ax1, pressure_series)
draw(ax2, temperature_series)

ax1.set_xlim(base_num - 16.84, base_num + 384.1)
ax1.set_ylim(600, 200)
ax1.set_yticks(pressure_ticks)
ax2.set_xlim(base_num - 16.86, base_num + 388.6)
ax2.set_ylim(6, 14)
ax2.set_yticks(temperature_ticks)

for ax in (ax1, ax2):
    ax.xaxis.set_major_locator(mdates.MonthLocator(bymonth=[2, 4, 6, 8, 10, 12]))
    ax.xaxis.set_major_formatter(mdates.DateFormatter('%b'))
    ax.tick_params(direction='in', length=7, width=0.8, top=True, right=True,
                   labelsize=10, pad=4)
    for s in ax.spines.values():
        s.set_linewidth(1.0)
    ax.set_xlabel('Time (months)', fontsize=10, fontweight='bold', labelpad=1)

ax1.set_ylabel('Pressure (dbar)', fontsize=10, fontweight='bold', labelpad=4)
ax2.set_ylabel(r'Temperature ($^{o}$ C)', fontsize=10, fontweight='bold', labelpad=6)

fig.savefig('out.png', dpi=100)
